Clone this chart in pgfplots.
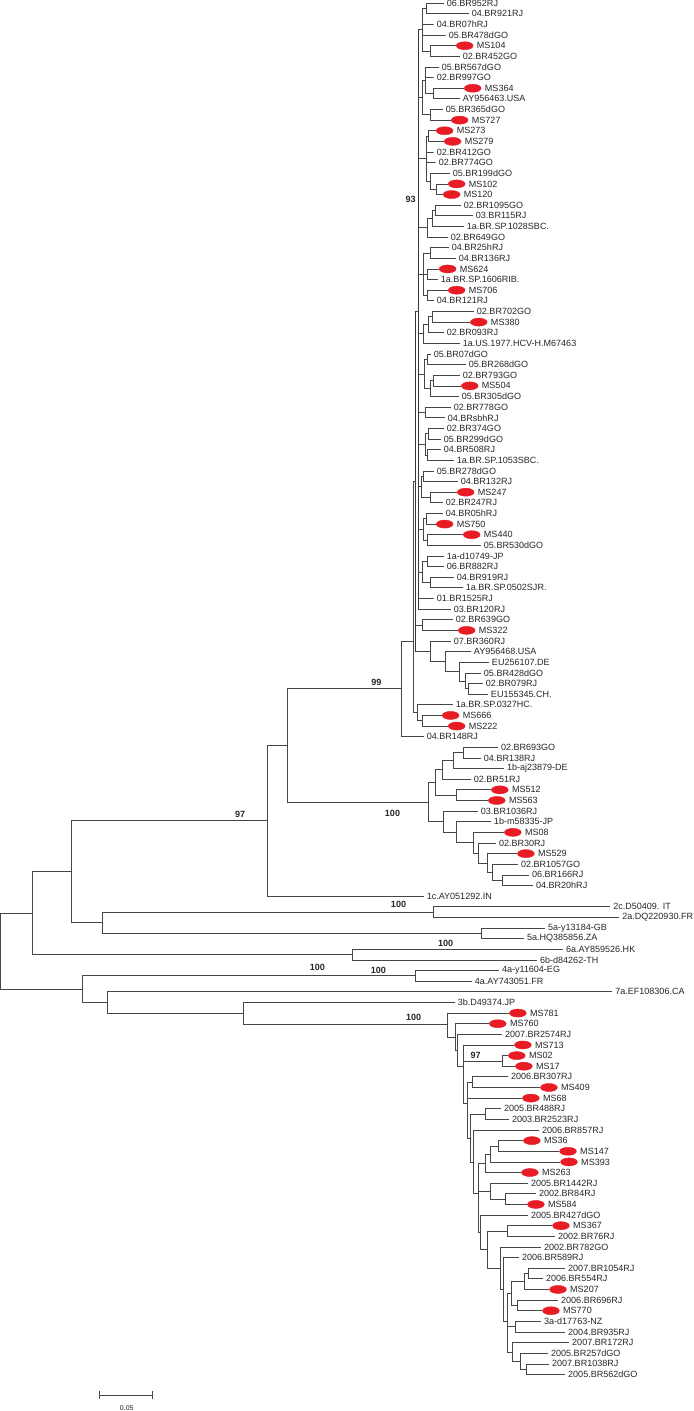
\documentclass[border=0pt]{standalone}
\usepackage{fontspec}
\setmainfont{Liberation Sans}
\usepackage{pgfplots}
\usepackage{pgfplotstable}
\pgfplotsset{compat=1.18}
\definecolor{msred}{RGB}{232,28,36}
\definecolor{brc}{RGB}{70,70,70}
\newcommand{\br}[1]{\addplot[brc, line width=0.75pt, mark=none] coordinates {#1};}
\newcommand{\brt}[1]{\addplot[brc!80!black, line width=1.4pt, mark=none] coordinates {#1};}

\pgfplotstableread[col sep=comma]{
x,y,label
446,1,06.BR952RJ
471,2,04.BR921RJ
436,3,04.BR07hRJ
448,4,05.BR478dGO
476,5,MS104
462,6,02.BR452GO
441,7,05.BR567dGO
436,8,02.BR997GO
484,9,MS364
462,10,AY956463.USA
445,11,05.BR365dGO
471,12,MS727
456,13,MS273
464,14,MS279
436,15,02.BR412GO
438,16,02.BR774GO
452,17,05.BR199dGO
468,18,MS102
463,19,MS120
463,20,02.BR1095GO
475,21,03.BR115RJ
466,22,1a.BR.SP.1028SBC.
450,23,02.BR649GO
451,24,04.BR25hRJ
458,25,04.BR136RJ
459,26,MS624
440,27,1a.BR.SP.1606RIB.
468,28,MS706
436,29,04.BR121RJ
476,30,02.BR702GO
490,31,MS380
446,32,02.BR093RJ
462,33,1a.US.1977.HCV-H.M67463
433,34,05.BR07dGO
468,35,05.BR268dGO
462,36,02.BR793GO
481,37,MS504
461,38,05.BR305dGO
453,39,02.BR778GO
447,40,04.BRsbhRJ
446,41,02.BR374GO
443,42,05.BR299dGO
443,43,04.BR508RJ
456,44,1a.BR.SP.1053SBC.
436,45,05.BR278dGO
460,46,04.BR132RJ
477,47,MS247
445,48,02.BR247RJ
445,49,04.BR05hRJ
456,50,MS750
483,51,MS440
483,52,05.BR530dGO
446,53,1a-d10749-JP
446,54,06.BR882RJ
456,55,04.BR919RJ
465,56,1a.BR.SP.0502SJR.
436,57,01.BR1525RJ
453,58,03.BR120RJ
455,59,02.BR639GO
478,60,MS322
453,61,07.BR360RJ
473,62,AY956468.USA
491,63,EU256107.DE
483,64,05.BR428dGO
485,65,02.BR079RJ
490,66,EU155345.CH.
455,67,1a.BR.SP.0327HC.
462,68,MS666
468,69,MS222
426,70,04.BR148RJ
500,71,02.BR693GO
483,72,04.BR138RJ
506,73,1b-aj23879-DE
473,74,02.BR51RJ
511,75,MS512
508,76,MS563
480,77,03.BR1036RJ
493,78,1b-m58335-JP
524,79,MS08
498,80,02.BR30RJ
537,81,MS529
520,82,02.BR1057GO
531,83,06.BR166RJ
535,84,04.BR20hRJ
426,85,1c.AY051292.IN
612,86,2c.D50409. IT
621,87,2a.DQ220930.FR
547,88,5a-y13184-GB
526,89,5a.HQ385856.ZA
565,90,6a.AY859526.HK
539,91,6b-d84262-TH
501,92,4a-y11604-EG
474,93,4a.AY743051.FR
614,94,7a.EF108306.CA
457,95,3b.D49374.JP
529,96,MS781
509,97,MS760
504,98,2007.BR2574RJ
534,99,MS713
528,100,MS02
535,101,MS17
510,102,2006.BR307RJ
560,103,MS409
542,104,MS68
503,105,2005.BR488RJ
511,106,2003.BR2523RJ
541,107,2006.BR857RJ
543,108,MS36
579,109,MS147
580,110,MS393
541,111,MS263
530,112,2005.BR1442RJ
538,113,2002.BR84RJ
547,114,MS584
530,115,2005.BR427dGO
572,116,MS367
557,117,2002.BR76RJ
543,118,2002.BR782GO
521,119,2006.BR589RJ
567,120,2007.BR1054RJ
545,121,2006.BR554RJ
569,122,MS207
560,123,2006.BR696RJ
562,124,MS770
543,125,3a-d17763-NZ
567,126,2004.BR935RJ
571,127,2007.BR172RJ
550,128,2005.BR257dGO
551,129,2007.BR1038RJ
567,130,2005.BR562dGO
}\leaves

\pgfplotstableread{
x y
464 5
472 9
459 12
444 13
452 14
456 18
451 19
447 26
456 28
478 31
469 37
465 47
444 50
471 51
466 60
450 68
456 69
499 75
496 76
512 79
525 81
517 96
497 97
522 99
516 100
523 101
548 103
530 104
531 108
567 109
568 110
529 111
535 114
560 116
557 122
550 124
}\ellipses

\pgfplotstableread{
x y label
410 19.5 93
376 64.9 99
240 77.3 97
392 77.2 100
398 85.8 100
445 89.4 100
317 91.66 100
378 92.0 100
413 96.4 100
475 100.0 97
}\boots

\begin{document}
\begin{tikzpicture}
\begin{axis}[width=692pt,height=1411pt,scale only axis,
  xmin=0,xmax=692,ymin=0.6226,ymax=133.736,y dir=reverse,
  hide axis,clip=false]
% ---- backbone
\br{(33,86.6)(1,86.6)(1,93.75)(83,93.75)}
\br{(72,82.7)(33,82.7)(33,90.5)(352,90.5)}
\br{(267,77.9)(72,77.9)(72,87.5)(103,87.5)}
\br{(287,70.8)(267,70.8)(267,85)(423,85)}
\br{(401,65.5)(287,65.5)(287,76.15)(428,76.15)}
\br{(433,86.5)(103,86.5)(103,88.5)(481,88.5)}
\br{(609,86)(433,86)(433,87)(618,87)}
\br{(544,88)(481,88)(481,89)(523,89)}
\br{(562,90)(352,90)(352,91)(536,91)}
\br{(415,92.5)(83,92.5)(83,95)(108,95)}
\br{(498,92)(415,92)(415,93)(471,93)}
\br{(611,94)(108,94)(108,96.05)(243,96.05)}
\br{(454,95)(243,95)(243,97.1)(447,97.1)}
% ---- 1a
\br{(443,1)(426,1)(426,2)(468,2)}
\br{(455,5)(430,5)(430,6)(459,6)}
\br{(426,1.5)(422,1.5)(422,3)(433,3)(422,3)(422,4)(445,4)(422,4)(422,5.5)(430,5.5)}
\br{(438,7)(425,7)(425,8)(433,8)(425,8)(425,9.5)(433,9.5)}
\br{(463,9)(433,9)(433,10)(459,10)}
\br{(442,11)(430,11)(430,12)(450,12)}
\br{(425,8.25)(422,8.25)(422,11.5)(430,11.5)}
\br{(435,13)(428,13)(428,14)(443,14)}
\br{(447,18)(436,18)(436,19)(442,19)}
\br{(449,17)(430,17)(430,18.5)(436,18.5)}
\br{(428,13.5)(426,13.5)(426,15)(433,15)(426,15)(426,16)(435,16)(426,16)(426,17.75)(430,17.75)}
\br{(460,20)(435,20)(435,21)(472,21)}
\br{(435,20.5)(432,20.5)(432,22)(463,22)}
\br{(432,21.25)(427,21.25)(427,23)(447,23)}
\br{(448,24)(430,24)(430,25)(455,25)}
\br{(438,26)(427,26)(427,27)(437,27)}
\br{(447,28)(427,28)(427,29)(433,29)}
\br{(430,24.5)(423,24.5)(423,26.5)(427,26.5)(423,26.5)(423,28.5)(427,28.5)}
\br{(473,30)(432,30)(432,31)(469,31)}
\br{(432,30.5)(428,30.5)(428,32)(443,32)}
\br{(428,31.25)(423,31.25)(423,33)(459,33)}
\br{(430,34)(427,34)(427,35)(465,35)}
\br{(459,36)(433,36)(433,37)(460,37)}
\br{(433,36.5)(430,36.5)(430,38)(458,38)}
\br{(427,34.5)(424,34.5)(424,37.25)(430,37.25)}
\br{(450,39)(425,39)(425,40)(444,40)}
\br{(443,41)(428,41)(428,42)(440,42)}
\br{(440,43)(427,43)(427,44)(453,44)}
\br{(428,41.5)(425,41.5)(425,43.5)(427,43.5)}
\br{(433,45)(423,45)(423,46)(457,46)}
\br{(456,47)(430,47)(430,48)(442,48)}
\br{(423,45.5)(421,45.5)(421,47.5)(430,47.5)}
\br{(442,49)(426,49)(426,50)(435,50)}
\br{(462,51)(427,51)(427,52)(480,52)}
\br{(426,49.5)(423,49.5)(423,51.5)(427,51.5)}
\br{(443,53)(427,53)(427,54)(443,54)}
\br{(453,55)(430,55)(430,56)(462,56)}
\br{(427,53.5)(422,53.5)(422,55.5)(430,55.5)}
\br{(422,3.5)(418,3.5)(418,9.9)(422,9.9)(418,9.9)(418,15.6)(426,15.6)(418,15.6)(418,22.1)(427,22.1)(418,22.1)(418,26.5)(423,26.5)(418,26.5)(418,32.1)(423,32.1)(418,32.1)(418,35.9)(424,35.9)(418,35.9)(418,39.5)(425,39.5)(418,39.5)(418,42.5)(425,42.5)(418,42.5)(418,46.5)(421,46.5)(418,46.5)(418,50.5)(423,50.5)(418,50.5)(418,54.5)(422,54.5)(418,54.5)(418,57)(433,57)(418,57)(418,58)(450,58)}
\brt{(418,3.5)(418,58)}
\br{(452,59)(422,59)(422,60)(457,60)}
\br{(482,65)(468,65)(468,66)(487,66)}
\br{(480,64)(465,64)(465,65.5)(468,65.5)}
\br{(488,63)(459,63)(459,64.75)(465,64.75)}
\br{(470,62)(445,62)(445,63.9)(459,63.9)}
\br{(450,61)(430,61)(430,62.9)(445,62.9)}
\br{(418,30)(415,30)(415,59.5)(422,59.5)(415,59.5)(415,62)(430,62)}
\brt{(415,30)(415,62)}
\br{(441,68)(422,68)(422,69)(447,69)}
\br{(452,67)(417,67)(417,68.5)(422,68.5)}
\br{(415,46)(413,46)(413,67.75)(417,67.75)}
\br{(413,61)(401,61)(401,70)(423,70)}
% ---- 1b
\br{(497,71)(463,71)(463,72)(480,72)}
\br{(463,71.5)(453,71.5)(453,73)(503,73)}
\br{(453,72.25)(442,72.25)(442,74)(470,74)}
\br{(490,75)(456,75)(456,76)(487,76)}
\br{(442,73.1)(435,73.1)(435,75.5)(456,75.5)}
\br{(528,83)(502,83)(502,84)(532,84)}
\br{(517,82)(492,82)(492,83.5)(502,83.5)}
\br{(516,81)(487,81)(487,82.75)(492,82.75)}
\br{(495,80)(478,80)(478,81.9)(487,81.9)}
\br{(503,79)(473,79)(473,80.95)(478,80.95)}
\br{(490,78)(456,78)(456,79.97)(473,79.97)}
\br{(477,77)(443,77)(443,78.98)(456,78.98)}
\br{(435,74.3)(428,74.3)(428,78.0)(443,78.0)}
% ---- 3a
\br{(508,96)(447,96)(447,98.25)(455,98.25)}
\br{(488,97)(455,97)(455,99.5)(457,99.5)}
\br{(501,98)(457,98)(457,101)(463,101)}
\br{(513,99)(463,99)(463,100.5)(502,100.5)(463,100.5)(463,104.5)(467,104.5)}
\br{(507,100)(502,100)(502,101)(514,101)}
\br{(472,102.5)(467,102.5)(467,104)(521,104)(467,104)(467,107.75)(470,107.75)}
\br{(507,102)(472,102)(472,103)(539,103)}
\br{(485,105.5)(470,105.5)(470,110)(473,110)}
\br{(500,105)(485,105)(485,106)(508,106)}
\br{(538,107)(473,107)(473,113)(478,113)}
\br{(485,110.1)(478,110.1)(478,112.75)(490,112.75)(478,112.75)(478,116.6)(480,116.6)}
\br{(490,109.25)(485,109.25)(485,111)(520,111)}
\br{(498,108.5)(490,108.5)(490,110)(559,110)}
\br{(522,108)(498,108)(498,109)(558,109)}
\br{(527,112)(490,112)(490,113.5)(505,113.5)}
\br{(535,113)(505,113)(505,114)(526,114)}
\br{(527,115)(480,115)(480,118.25)(487,118.25)}
\br{(507,116.5)(487,116.5)(487,120)(500,120)}
\br{(551,116)(507,116)(507,117)(554,117)}
\br{(540,118)(500,118)(500,122)(503,122)}
\br{(518,119)(503,119)(503,125)(507,125)}
\br{(511,122.4)(507,122.4)(507,125.5)(515,125.5)(507,125.5)(507,127.9)(512,127.9)}
\br{(523,121.25)(511,121.25)(511,123.5)(517,123.5)}
\br{(527,120.5)(523,120.5)(523,122)(548,122)}
\br{(564,120)(527,120)(527,121)(542,121)}
\br{(557,123)(517,123)(517,124)(541,124)}
\br{(540,125)(515,125)(515,126)(564,126)}
\br{(568,127)(512,127)(512,128.75)(520,128.75)}
\br{(547,128)(520,128)(520,129.5)(525,129.5)}
\br{(548,129)(525,129)(525,130)(564,130)}
% ---- scale bar
\addplot[brc, line width=0.75pt, mark=none] coordinates {(100,131.55)(100,132.3)(100,131.94)(153,131.94)(153,131.55)(153,132.3)};
% ---- marks and labels
\addplot[color=msred, only marks, mark=*, mark size=4pt, mark options={xscale=2.1, draw=none, fill=msred}] table[x=x,y=y] {\ellipses};
\addplot[draw=none, mark=none, nodes near coords, point meta=explicit symbolic,
  every node near coord/.append style={anchor=west, inner sep=0pt, font=\fontsize{9}{10}\selectfont, text=black!85}]
  table[x=x,y=y,meta=label] {\leaves};
\addplot[draw=none, mark=none, nodes near coords, point meta=explicit symbolic,
  every node near coord/.append style={anchor=center, inner sep=0pt, font=\fontsize{9}{10}\selectfont\bfseries, text=black!85}]
  table[x=x,y=y,meta=label] {\boots};
\addplot[draw=none, mark=none, nodes near coords, point meta=explicit symbolic,
  every node near coord/.append style={anchor=center, inner sep=0pt, font=\fontsize{7}{8}\selectfont, text=black!85}]
  coordinates {(127,133.2)[0.05]};
\end{axis}
\end{tikzpicture}
\end{document}
